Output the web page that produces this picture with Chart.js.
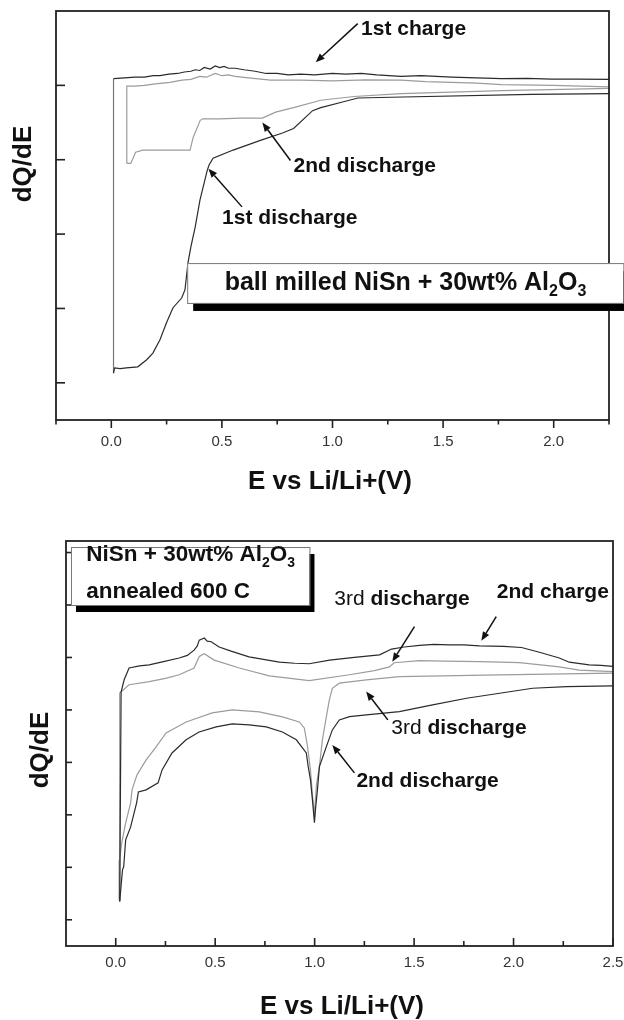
<!DOCTYPE html>
<html>
<head>
<meta charset="utf-8">
<script src="https://cdn.jsdelivr.net/npm/chart.js@4.4.1/dist/chart.umd.min.js"></script>
<style>
  html,body{margin:0;padding:0;background:#fff;}
  body{width:624px;height:1020px;position:relative;overflow:hidden;}
  .wrap{position:absolute;left:0;width:624px;}
  #w1{top:0;height:500px;}
  #w2{top:520px;height:500px;}
</style>
</head>
<body>
<div class="wrap" id="w1"><canvas id="c1"></canvas></div>
<div class="wrap" id="w2"><canvas id="c2"></canvas></div>
<script>
// ---------------- DATA: top panel (ball milled) ----------------
const topXMajor = [0, 0.5, 1.0, 1.5, 2.0];
const topXMinor = [-0.25, 0.25, 0.75, 1.25, 1.75, 2.25];
const topYTicks = [0, 1, 2, 3, 4];

const top1stDisX = [2.26,1.90,1.265,1.115,1.05,0.947,0.91,0.824,0.774,0.674,0.551,0.46,0.442,0.434,0.401,0.379,0.36,0.347,0.333,0.318,0.279,0.25,0.22,0.188,0.16,0.12,0.068,0.04,0.015,0.01];
const top1stDisY = [3.89,3.88,3.84,3.83,3.78,3.70,3.66,3.42,3.36,3.26,3.13,3.02,2.93,2.86,2.46,2.09,1.83,1.62,1.25,1.14,1.01,0.81,0.58,0.40,0.31,0.215,0.20,0.19,0.20,0.13];

const top1stChgX = [0.01,0.01,0.06,0.106,0.15,0.19,0.22,0.26,0.30,0.33,0.36,0.379,0.40,0.42,0.447,0.47,0.49,0.51,0.53,0.56,0.60,0.65,0.70,0.75,0.80,0.856,0.92,1.0,1.06,1.13,1.2,1.31,1.4,1.54,1.65,1.765,1.88,1.99,2.1,2.26];
const top1stChgY = [0.13,4.09,4.10,4.11,4.11,4.13,4.13,4.15,4.16,4.18,4.19,4.21,4.20,4.24,4.22,4.26,4.24,4.255,4.23,4.23,4.21,4.19,4.16,4.16,4.14,4.15,4.14,4.16,4.15,4.16,4.14,4.12,4.13,4.11,4.10,4.09,4.095,4.085,4.085,4.08];

const top2ndDisX = [2.26,1.765,1.31,1.097,0.947,0.824,0.743,0.683,0.583,0.49,0.415,0.402,0.37,0.356,0.265,0.143,0.11,0.088,0.07];
const top2ndDisY = [3.96,3.93,3.89,3.85,3.80,3.70,3.64,3.56,3.56,3.55,3.55,3.53,3.30,3.13,3.13,3.13,3.10,2.95,2.95];

const top2ndChgX = [0.07,0.07,0.106,0.15,0.2,0.265,0.32,0.36,0.40,0.43,0.47,0.50,0.53,0.56,0.62,0.72,0.856,1.0,1.15,1.31,1.42,1.54,1.65,1.765,2.0,2.26];
const top2ndChgY = [2.95,3.99,3.99,4.0,4.02,4.04,4.07,4.08,4.12,4.11,4.16,4.13,4.14,4.12,4.10,4.07,4.07,4.06,4.075,4.07,4.05,4.04,4.03,4.01,4.0,3.98];

// ---------------- DATA: bottom panel (annealed 600 C) ----------------
const botXMajor = [0, 0.5, 1.0, 1.5, 2.0, 2.5];
const botXMinor = [0.25, 0.75, 1.25, 1.75, 2.25];
const botYTicks = [0, 1, 2, 3, 4, 5, 6, 7];

const bot2ndDisX = [2.499,2.266,2.096,1.93,1.764,1.593,1.426,1.26,1.175,1.124,1.089,1.059,1.024,1.014,1.004,0.999,0.989,0.979,0.968,0.958,0.908,0.838,0.757,0.671,0.586,0.505,0.419,0.354,0.283,0.233,0.213,0.153,0.114,0.105,0.075,0.05,0.04,0.034,0.02];
const bot2ndDisY = [4.457,4.444,4.413,4.318,4.223,4.095,3.968,3.905,3.872,3.81,3.619,3.30,2.92,2.476,2.095,1.848,2.286,2.667,2.914,3.18,3.43,3.58,3.676,3.714,3.733,3.676,3.58,3.43,3.18,2.857,2.61,2.476,2.438,2.229,1.771,1.524,1.01,0.952,0.349];

const bot2ndChgX = [0.02,0.027,0.042,0.067,0.12,0.168,0.24,0.319,0.36,0.394,0.41,0.42,0.445,0.46,0.48,0.52,0.58,0.67,0.75,0.823,0.9,0.973,1.075,1.2,1.326,1.387,1.45,1.527,1.6,1.678,1.75,1.829,1.95,2.04,2.13,2.23,2.28,2.38,2.44,2.50];
const bot2ndChgY = [0.349,4.34,4.57,4.80,4.84,4.86,4.92,4.99,5.04,5.14,5.22,5.33,5.37,5.31,5.30,5.20,5.12,5.01,4.96,4.91,4.89,4.88,4.95,5.0,5.05,5.16,5.20,5.23,5.25,5.24,5.24,5.22,5.21,5.19,5.10,4.99,4.91,4.86,4.85,4.83];

const bot3rdDisX = [2.499,1.93,1.426,1.26,1.124,1.089,1.074,1.059,1.039,1.024,1.009,0.999,0.989,0.979,0.963,0.948,0.923,0.838,0.722,0.586,0.485,0.354,0.253,0.203,0.153,0.107,0.082,0.075,0.05,0.03,0.02,0.017];
const bot3rdDisY = [4.70,4.667,4.634,4.571,4.51,4.413,4.19,3.872,3.43,2.92,2.57,2.0,2.38,2.857,3.333,3.657,3.771,3.867,3.962,4.0,3.943,3.771,3.562,3.295,3.048,2.762,2.476,2.229,1.848,1.467,1.143,0.381];

const bot3rdChgX = [0.017,0.02,0.067,0.168,0.25,0.319,0.394,0.42,0.445,0.495,0.621,0.772,0.973,1.175,1.3,1.376,1.40,1.527,1.65,1.829,2.03,2.23,2.33,2.50];
const bot3rdChgY = [0.381,4.32,4.48,4.54,4.60,4.67,4.80,5.02,5.07,4.95,4.80,4.65,4.56,4.67,4.75,4.82,4.90,4.94,4.93,4.92,4.90,4.82,4.76,4.73];

// ---------------- styling ----------------
const FONT = '"Liberation Sans", Arial, Helvetica, sans-serif';
const DARK = '#2b2b2b';
const GRAY = '#9c9c9c';
Chart.defaults.font.family = FONT;
Chart.defaults.animation = false;

function pts(xs, ys){ return xs.map((x,i)=>({x:x, y:ys[i]})); }
function ds(label, xs, ys, color, firstSegColor){
  const d = {label, data: pts(xs,ys), borderColor: color, borderWidth: 1.2, pointRadius: 0, tension: 0, fill: false};
  if (firstSegColor) d.segment = {borderColor: c => c.p0DataIndex === 0 ? firstSegColor : undefined};
  return d;
}

function drawRich(ctx, parts, x, y, size, align){
  const fonts = parts.map(p => `${p.b ? 'bold ' : ''}${p.sub ? Math.round(size*0.62) : size}px ${FONT}`);
  const widths = parts.map((p,i)=>{ ctx.font = fonts[i]; return ctx.measureText(p.t).width; });
  const total = widths.reduce((a,b)=>a+b, 0);
  let cx = align === 'center' ? x - total/2 : x;
  ctx.textAlign = 'left'; ctx.textBaseline = 'middle'; ctx.fillStyle = '#111';
  parts.forEach((p,i)=>{ ctx.font = fonts[i]; ctx.fillText(p.t, cx, y + (p.sub ? size*0.36 : 0)); cx += widths[i]; });
}

function arrow(ctx, x1, y1, x2, y2){
  const ang = Math.atan2(y2-y1, x2-x1), L = 9, W = 3.6;
  const bx = x2 - L*Math.cos(ang), by = y2 - L*Math.sin(ang);
  ctx.strokeStyle = '#111'; ctx.lineWidth = 1.5;
  ctx.beginPath(); ctx.moveTo(x1,y1); ctx.lineTo(bx,by); ctx.stroke();
  ctx.fillStyle = '#111';
  ctx.beginPath();
  ctx.moveTo(x2,y2);
  ctx.lineTo(bx + W*Math.sin(ang), by - W*Math.cos(ang));
  ctx.lineTo(bx - W*Math.sin(ang), by + W*Math.cos(ang));
  ctx.closePath(); ctx.fill();
}

const decor = {
  id: 'decor',
  afterDraw(chart, args, o){
    const {ctx, chartArea: a, scales: {x, y}} = chart;
    ctx.save();
    // frame
    ctx.strokeStyle = '#222'; ctx.lineWidth = 1.8;
    ctx.strokeRect(a.left, a.top, a.right - a.left, a.bottom - a.top);
    // x ticks
    ctx.lineWidth = 1.6;
    const dir = o.xTickDir; // +1 outward (down), -1 inward
    o.xMajor.forEach(v => { const px = x.getPixelForValue(v); ctx.beginPath(); ctx.moveTo(px, a.bottom); ctx.lineTo(px, a.bottom + dir*o.xMajLen); ctx.stroke(); });
    o.xMinor.forEach(v => { const px = x.getPixelForValue(v); ctx.beginPath(); ctx.moveTo(px, a.bottom); ctx.lineTo(px, a.bottom + dir*o.xMinLen); ctx.stroke(); });
    // y ticks (inward)
    o.yTicks.forEach(v => { const py = y.getPixelForValue(v); ctx.beginPath(); ctx.moveTo(a.left, py); ctx.lineTo(a.left + o.yLen, py); ctx.stroke(); });
    // axis titles
    ctx.fillStyle = '#111';
    ctx.font = `bold 26px ${FONT}`;
    ctx.textAlign = 'center'; ctx.textBaseline = 'middle';
    ctx.fillText(o.xTitle.text, o.xTitle.cx, o.xTitle.cy);
    ctx.save();
    ctx.translate(o.yTitle.cx, o.yTitle.cy); ctx.rotate(-Math.PI/2);
    ctx.fillText(o.yTitle.text, 0, 0);
    ctx.restore();
    // box
    const b = o.box;
    const bx1 = x.getPixelForValue(b.x1), bx2 = x.getPixelForValue(b.x2);
    const by1 = y.getPixelForValue(b.y1), by2 = y.getPixelForValue(b.y2);
    ctx.fillStyle = '#000';
    ctx.fillRect(bx1 + b.dx, by1 + b.dy, bx2 - bx1, by2 - by1);
    ctx.fillStyle = '#fff';
    ctx.fillRect(bx1, by1, bx2 - bx1, by2 - by1);
    ctx.strokeStyle = '#777'; ctx.lineWidth = 1;
    ctx.strokeRect(bx1 + 0.5, by1 + 0.5, bx2 - bx1, by2 - by1);
    // labels
    o.labels.forEach(l => {
      drawRich(ctx, l.parts, x.getPixelForValue(l.x), y.getPixelForValue(l.y), l.size, l.align || 'left');
    });
    // arrows
    o.arrows.forEach(r => arrow(ctx, x.getPixelForValue(r[0]), y.getPixelForValue(r[1]), x.getPixelForValue(r[2]), y.getPixelForValue(r[3])));
    ctx.restore();
  }
};

function makeChart(id, cfg){
  return new Chart(document.getElementById(id), {
    type: 'line',
    data: {datasets: cfg.datasets},
    plugins: [decor],
    options: {
      responsive: true, maintainAspectRatio: false,
      layout: {padding: cfg.padding},
      plugins: {legend: {display: false}, tooltip: {enabled: false}, decor: cfg.decor},
      scales: {
        x: {
          type: 'linear', min: cfg.xmin, max: cfg.xmax,
          grid: {display: false, drawTicks: false},
          border: {display: false},
          afterBuildTicks: s => { s.ticks = cfg.decor.xMajor.map(v => ({value: v})); },
          afterFit: s => { s.height = cfg.xAxisH; s.paddingLeft = 0; s.paddingRight = 0; },
          ticks: {padding: cfg.tickPad, color: '#333', font: {size: 15, family: FONT}, callback: v => Number(v).toFixed(1), maxRotation: 0, autoSkip: false}
        },
        y: {
          type: 'linear', min: cfg.ymin, max: cfg.ymax,
          grid: {display: false, drawTicks: false},
          border: {display: false},
          ticks: {display: false},
          afterFit: s => { s.width = cfg.yAxisW; s.paddingTop = 0; s.paddingBottom = 0; }
        }
      }
    }
  });
}

// ---------------- top chart ----------------
makeChart('c1', {
  datasets: [
    ds('1st discharge', top1stDisX, top1stDisY, DARK),
    ds('1st charge', top1stChgX, top1stChgY, DARK, '#777'),
    ds('2nd discharge', top2ndDisX, top2ndDisY, GRAY),
    ds('2nd charge', top2ndChgX, top2ndChgY, GRAY)
  ],
  padding: {left: 0, right: 15, top: 11, bottom: 0},
  xmin: -0.25, xmax: 2.25, ymin: -0.5, ymax: 5,
  xAxisH: 80, yAxisW: 56, tickPad: 13,
  decor: {
    xMajor: topXMajor, xMinor: topXMinor, yTicks: topYTicks,
    xTickDir: 1, xMajLen: 8, xMinLen: 4.5, yLen: 9,
    xTitle: {text: 'E vs Li/Li+(V)', cx: 330, cy: 482},
    yTitle: {text: 'dQ/dE', cx: 24, cy: 164},
    box: {x1: 0.343, x2: 2.315, y1: 1.61, y2: 1.074, dx: 6, dy: 8},
    labels: [
      {x: 1.33, y: 1.342, size: 25, align: 'center', parts: [{t:'ball milled NiSn + 30wt% Al', b:1},{t:'2', b:1, sub:1},{t:'O', b:1},{t:'3', b:1, sub:1}]},
      {x: 1.129, y: 4.75, size: 21, parts: [{t:'1st charge', b:1}]},
      {x: 0.824, y: 2.91, size: 21, parts: [{t:'2nd discharge', b:1}]},
      {x: 0.501, y: 2.215, size: 21, parts: [{t:'1st discharge', b:1}]}
    ],
    arrows: [
      [1.114, 4.83, 0.924, 4.31],
      [0.81, 2.99, 0.683, 3.50],
      [0.591, 2.366, 0.439, 2.88]
    ]
  }
});

// ---------------- bottom chart ----------------
makeChart('c2', {
  datasets: [
    ds('2nd discharge', bot2ndDisX, bot2ndDisY, DARK),
    ds('2nd charge', bot2ndChgX, bot2ndChgY, DARK),
    ds('3rd discharge', bot3rdDisX, bot3rdDisY, GRAY),
    ds('3rd charge', bot3rdChgX, bot3rdChgY, GRAY)
  ],
  padding: {left: 0, right: 11, top: 21, bottom: 0},
  xmin: -0.25, xmax: 2.5, ymin: -0.5, ymax: 7.22,
  xAxisH: 74, yAxisW: 66, tickPad: 8,
  decor: {
    xMajor: botXMajor, xMinor: botXMinor, yTicks: botYTicks,
    xTickDir: -1, xMajLen: 8, xMinLen: 5, yLen: 6,
    xTitle: {text: 'E vs Li/Li+(V)', cx: 342, cy: 487},
    yTitle: {text: 'dQ/dE', cx: 41, cy: 230},
    box: {x1: -0.225, x2: 0.974, y1: 7.105, y2: 6.0, dx: 5, dy: 7},
    labels: [
      {x: -0.148, y: 6.952, size: 22.5, parts: [{t:'NiSn + 30wt% Al', b:1},{t:'2', b:1, sub:1},{t:'O', b:1},{t:'3', b:1, sub:1}]},
      {x: -0.148, y: 6.253, size: 22.5, parts: [{t:'annealed 600 C', b:1}]},
      {x: 1.099, y: 6.109, size: 21, parts: [{t:'3rd '},{t:'discharge', b:1}]},
      {x: 1.916, y: 6.253, size: 21, parts: [{t:'2nd charge', b:1}]},
      {x: 1.385, y: 3.651, size: 21, parts: [{t:'3rd '},{t:'discharge', b:1}]},
      {x: 1.21, y: 2.634, size: 21, parts: [{t:'2nd discharge', b:1}]}
    ],
    arrows: [
      [1.502, 5.587, 1.39, 4.92],
      [1.913, 5.777, 1.838, 5.32],
      [1.368, 3.81, 1.259, 4.349],
      [1.20, 2.80, 1.089, 3.333]
    ]
  }
});
</script>
</body>
</html>
